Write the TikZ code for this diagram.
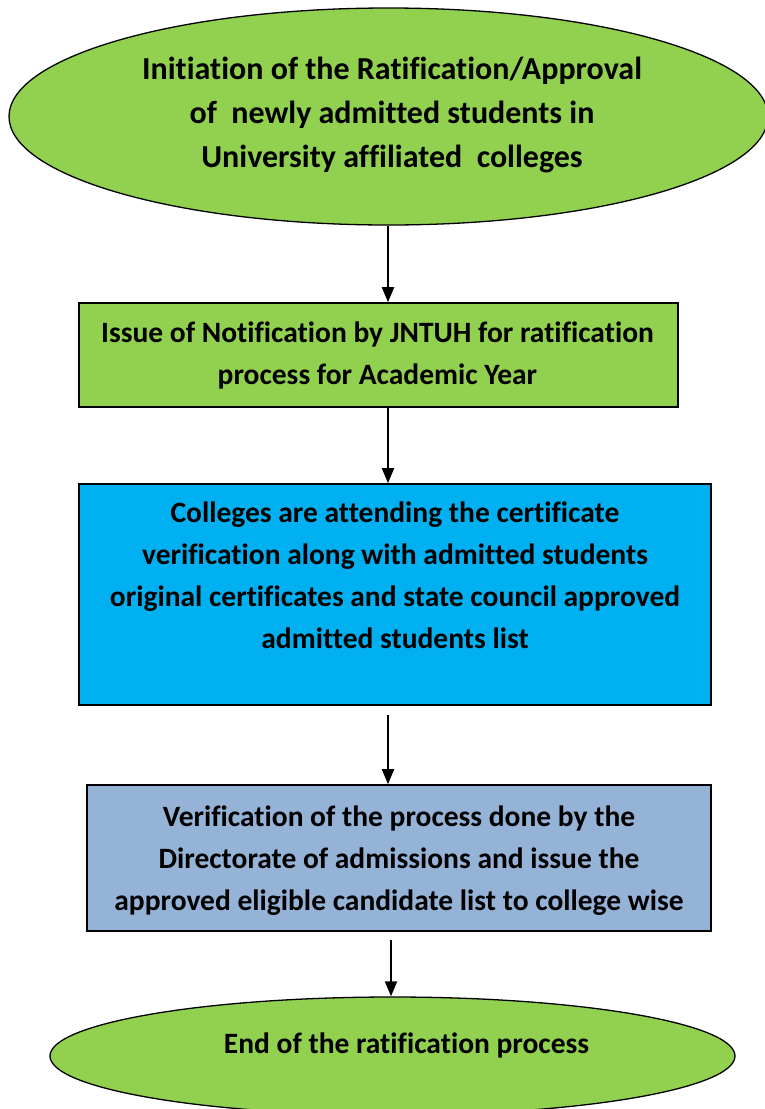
\documentclass[tikz,border=0pt]{standalone}
\usepackage{fontspec}
\setmainfont[Ligatures={NoCommon}]{Carlito}
\usetikzlibrary{shapes.geometric,arrows.meta}
\definecolor{grn}{HTML}{92D050}
\definecolor{blu}{HTML}{00B0F0}
\definecolor{stl}{HTML}{95B3D7}
\tikzset{
  oval/.style={ellipse,draw=black,line width=1.3pt,inner sep=0pt},
  boxshape/.style={rectangle,draw=black,line width=1.6pt,inner sep=0pt},
  txt/.style={align=center,font=\fontsize{29.5}{42}\selectfont\bfseries,inner sep=0pt},
  bigtxt/.style={txt,font=\fontsize{32}{44}\selectfont\bfseries},
  arr/.style={line width=1.8pt,-{Triangle[length=15pt,width=12pt]}}
}
\begin{document}
\begin{tikzpicture}[x=1pt,y=-1pt]
\useasboundingbox (0,0) rectangle (765,1109);
% shapes
\node[oval,fill=grn,minimum width=759,minimum height=217] (e1) at (388.5,116.5) {};
\node[boxshape,fill=grn,minimum width=599,minimum height=104] (b2) at (378.5,355) {};
\node[boxshape,fill=blu,minimum width=632,minimum height=221] (b3) at (395,594.5) {};
\node[boxshape,fill=stl,minimum width=624,minimum height=146] (b4) at (399,858) {};
\node[oval,fill=grn,minimum width=685,minimum height=118] (e5) at (392.5,1056) {};
% texts
\node[bigtxt] (t1) at (392,115) {Initiation of the Ratification/Approval\\of\ \ newly admitted students in\\University affiliated\ \ colleges};
\node[txt] (t2) at (377.5,355.5) {Issue of Notification by JNTUH for ratification\\process for Academic Year};
\node[txt] (t3) at (395,575) {Colleges are attending the certificate\\verification along with admitted students\\original certificates and state council approved\\admitted students list};
\node[txt] (t4) at (399,860.5) {Verification of the process done by the\\Directorate of admissions and issue the\\approved eligible candidate list to college wise};
\node[txt] (t5) at (406.5,1045) {End of the ratification process};
% connectors
\coordinate (s3) at (388,715);
\coordinate (s4) at (391,940);
\draw[arr] (e1.south -| 388,0) -- (b2.north -| 388,0);
\draw[arr] (b2.south -| 388,0) -- (b3.north -| 388,0);
\draw[arr] (s3) -- (b4.north -| s3);
\draw[arr] (s4) -- (e5.north -| s4);
\end{tikzpicture}
\end{document}
